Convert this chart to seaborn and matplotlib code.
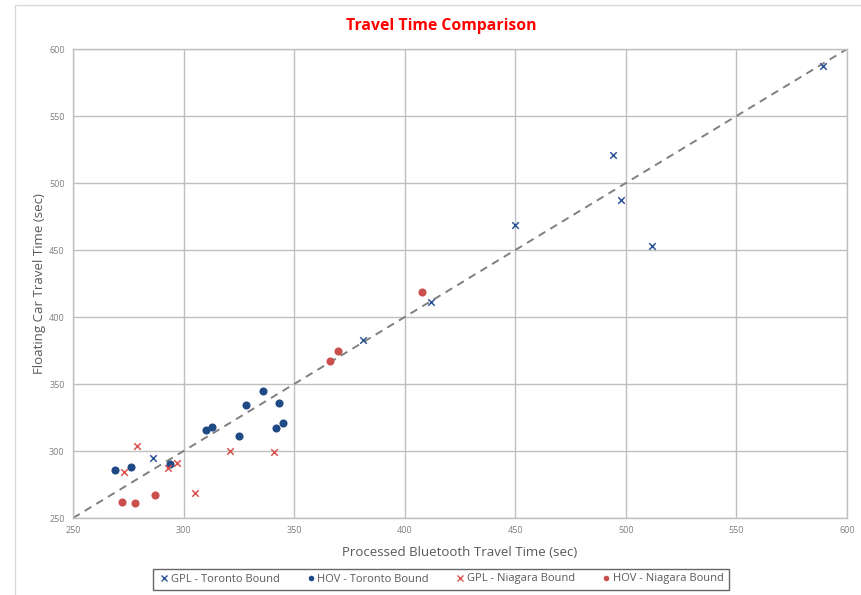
import matplotlib
matplotlib.use("Agg")
import matplotlib.pyplot as plt
from matplotlib.patches import Rectangle
from matplotlib.lines import Line2D
import seaborn as sns
import pandas as pd

# Processed Bluetooth travel time (x) vs floating-car travel time (y), seconds
gpl_toronto_x = [589, 494, 498, 512, 450, 412, 381, 286]
gpl_toronto_y = [587, 521, 487, 453, 469, 411, 383, 295]

hov_toronto_x = [269, 276, 294, 310, 313, 325, 328, 336, 343, 342, 345]
hov_toronto_y = [286, 288, 290, 316, 318, 311, 334, 345, 336, 317, 321]

gpl_niagara_x = [279, 273, 293, 297, 305, 321, 341]
gpl_niagara_y = [304, 284, 287, 291, 269, 300, 299]

hov_niagara_x = [272, 278, 287, 408, 366, 370]
hov_niagara_y = [262, 261, 267, 419, 367, 375]

series_names = ["GPL - Toronto Bound", "HOV - Toronto Bound",
                "GPL - Niagara Bound", "HOV - Niagara Bound"]
axis_ticks = [250, 300, 350, 400, 450, 500, 550, 600]

frames = []
for name, xs, ys in zip(series_names,
                        [gpl_toronto_x, hov_toronto_x, gpl_niagara_x, hov_niagara_x],
                        [gpl_toronto_y, hov_toronto_y, gpl_niagara_y, hov_niagara_y]):
    frames.append(pd.DataFrame({"bluetooth": xs, "floating": ys, "series": name}))
df = pd.concat(frames, ignore_index=True)

sns.set_theme(style="white")
plt.rcParams["font.family"] = ["Open Sans", "DejaVu Sans"]

colors = {
    "GPL - Toronto Bound": "#2F5597",
    "HOV - Toronto Bound": "#1F4A84",
    "GPL - Niagara Bound": "#D9534F",
    "HOV - Niagara Bound": "#C9504D",
}
markers = {
    "GPL - Toronto Bound": "x",
    "HOV - Toronto Bound": "o",
    "GPL - Niagara Bound": "x",
    "HOV - Niagara Bound": "o",
}
sizes = {"x": 22, "o": 34}

fig = plt.figure(figsize=(8.62, 5.95), dpi=100)
ax = fig.add_axes([0.0847, 0.1294, 0.8979, 0.7882])

# chart area border
fig.patches.append(Rectangle((15 / 862, -0.05), 1.0, 1 - 5 / 595 + 0.05,
                             transform=fig.transFigure, fill=False,
                             edgecolor="#d9d9d9", linewidth=1.0, zorder=0))

# 1:1 reference line
ax.plot([250, 600], [250, 600], linestyle=(0, (4, 3)), color="#808080",
        linewidth=1.4, zorder=2)

for name in series_names:
    sub = df[df["series"] == name]
    m = markers[name]
    sns.scatterplot(data=sub, x="bluetooth", y="floating", ax=ax,
                    color=colors[name], marker=m, s=sizes[m],
                    linewidth=1.1 if m == "x" else 0, zorder=3, legend=False)

ax.set_xlim(250, 600)
ax.set_ylim(250, 600)
ax.set_xticks(axis_ticks)
ax.set_yticks(axis_ticks)
ax.grid(True, color="#bfbfbf", linewidth=1.0)
ax.set_axisbelow(True)
for side in ax.spines.values():
    side.set_color("#bfbfbf")
    side.set_linewidth(1.0)
ax.tick_params(axis="both", labelsize=6.5, labelcolor="#7f7f7f", length=0, pad=6)

ax.set_xlabel("Processed Bluetooth Travel Time (sec)", fontsize=9.5,
              color="#595959", labelpad=8)
ax.set_ylabel("Floating Car Travel Time (sec)", fontsize=9.5,
              color="#595959", labelpad=2)

fig.text(0.512, 0.956, "Travel Time Comparison", ha="center", va="center",
         fontsize=11.3, fontweight="bold", color="#FF0000")

handles = [Line2D([0], [0], linestyle="none", marker=markers[n],
                  color=colors[n], markersize=4.0,
                  markeredgewidth=1.0 if markers[n] == "x" else 0)
           for n in series_names]
leg = fig.legend(handles, series_names, loc="center",
                 bbox_to_anchor=(441 / 862, 1 - 579 / 595), ncol=4,
                 fontsize=8, frameon=True, fancybox=False,
                 handletextpad=0.1, columnspacing=2.3, borderpad=0.45,
                 handlelength=1.0)
leg.get_frame().set_edgecolor("#404040")
leg.get_frame().set_linewidth(1.0)
for t in leg.get_texts():
    t.set_color("#595959")

fig.savefig("out.png", dpi=100)
